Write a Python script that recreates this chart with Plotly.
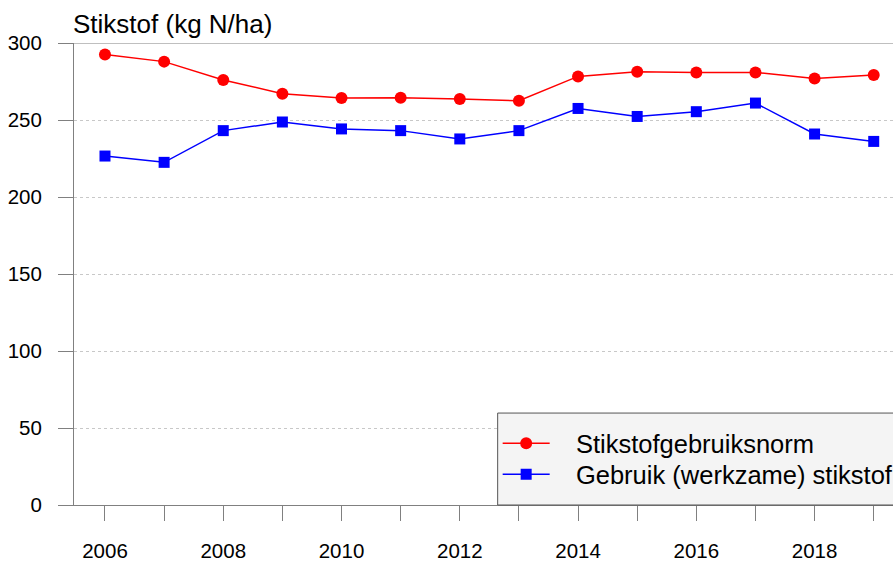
import plotly.graph_objects as go

years = list(range(2006, 2020))
norm = [292.6, 287.9, 276.0, 267.1, 264.3, 264.5, 263.6, 262.5, 278.3, 281.4, 280.9, 280.9, 277.0, 279.2]
gebruik = [226.6, 222.5, 243.1, 248.7, 244.2, 243.1, 237.7, 243.1, 257.5, 252.3, 255.4, 261.0, 240.9, 236.1]
y_ticks = [0, 50, 100, 150, 200, 250, 300]
x_labels = [str(y) if y % 2 == 0 else "" for y in years]

FONT = "Liberation Sans, Arial, Helvetica, sans-serif"
PAD = "\u00a0\u00a0\u00a0"

fig = go.Figure()
fig.add_trace(go.Scatter(
    x=years, y=norm, mode="lines+markers", name=PAD + "Stikstofgebruiksnorm",
    line=dict(color="#ff0000", width=1.5),
    marker=dict(symbol="circle", size=12, color="#ff0000"),
    legend="legend",
))
fig.add_trace(go.Scatter(
    x=years, y=gebruik, mode="lines+markers", name=PAD + "Gebruik (werkzame) stikstof",
    line=dict(color="#0000ff", width=1.5),
    marker=dict(symbol="square", size=11, color="#0000ff"),
    legend="legend2",
))

leg_common = dict(
    xanchor="left", yanchor="middle",
    bgcolor="rgba(0,0,0,0)", borderwidth=0,
    font=dict(size=25.5, family=FONT, color="black"),
    itemwidth=47,
)

fig.update_layout(
    width=893, height=562,
    margin=dict(l=74, r=0, t=43, b=57, autoexpand=False),
    plot_bgcolor="white", paper_bgcolor="white",
    font=dict(family=FONT, size=20.5, color="black"),
    showlegend=True,
    legend=dict(x=0.5173, y=0.1327, **leg_common),
    legend2=dict(x=0.5173, y=0.0656, **leg_common),
)

fig.update_xaxes(
    range=[2005.476, 2019.326],
    tickmode="array", tickvals=years, ticktext=x_labels,
    ticks="outside", ticklen=15, tickcolor="#808080", tickwidth=1,
    showline=True, linecolor="#808080", linewidth=1,
    showgrid=False, zeroline=False,
    ticklabelstandoff=12,
)
fig.update_yaxes(
    range=[0, 300],
    tickmode="array", tickvals=y_ticks,
    ticks="outside", ticklen=15, tickcolor="#808080", tickwidth=1,
    showline=True, linecolor="#808080", linewidth=1,
    showgrid=True, gridcolor="#c8c8c8", gridwidth=1, griddash="3px,3px",
    zeroline=False,
    ticklabelstandoff=12,
)

# top frame line at 300
fig.add_shape(type="line", xref="paper", yref="y", x0=0, x1=1, y0=300, y1=300,
              line=dict(color="#808080", width=1), layer="above")
# legend box
fig.add_shape(type="rect", xref="paper", yref="paper", x0=0.5173, x1=1.05, y0=0, y1=0.199,
              fillcolor="#f4f4f4", line=dict(color="#555555", width=1), layer="above")

fig.add_annotation(
    text="Stikstof (kg N/ha)", xref="paper", yref="paper", x=0, y=1,
    xanchor="left", yanchor="bottom", showarrow=False, yshift=2, xshift=-3,
    font=dict(size=26, family=FONT, color="black"),
)

fig.write_html(
    "out.html",
    config={"displayModeBar": False},
    post_script="document.body.style.margin='0';document.body.style.overflow='hidden';",
)
